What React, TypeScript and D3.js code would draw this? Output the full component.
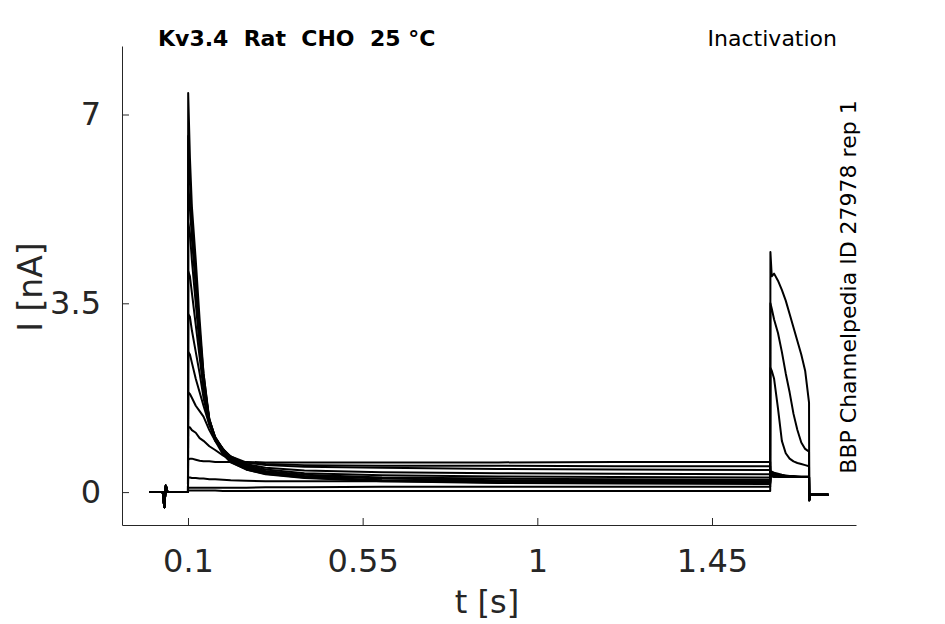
import React, { useEffect, useRef } from 'react';
import * as d3 from 'd3';

// holding potential segment before the prepulse (shared by all sweeps)
const baselineTimes = [0, 0.035, 0.039, 0.043, 0.047, 0.052, 0.1];
const baselineCurrent = [0, 0, -0.28, 0.12, 0, 0, 0];

// prepulse segment, 0.1 s .. 1.6 s
const prepulseTimes = [0.1005, 0.105, 0.11, 0.12, 0.13, 0.14, 0.155, 0.17, 0.19, 0.21, 0.25, 0.3, 0.4, 0.6, 0.9, 1.2, 1.6];
const prepulseCurrents = [
  [7.4, 6.2, 5.3, 4.3, 3.2, 2.2, 1.3, 0.95, 0.7, 0.55, 0.42, 0.33, 0.26, 0.2, 0.17, 0.16, 0.15],
  [6.6, 5.8, 5.0, 4.0, 3.0, 2.2, 1.35, 1.0, 0.72, 0.56, 0.42, 0.34, 0.27, 0.21, 0.18, 0.17, 0.17],
  [5.7, 5.3, 4.7, 3.8, 2.9, 2.1, 1.35, 1.0, 0.75, 0.58, 0.44, 0.35, 0.28, 0.22, 0.2, 0.19, 0.18],
  [5.0, 4.8, 4.3, 3.5, 2.7, 2.0, 1.35, 1.02, 0.78, 0.6, 0.46, 0.37, 0.3, 0.25, 0.22, 0.21, 0.2],
  [4.1, 4.0, 3.7, 3.1, 2.5, 1.9, 1.3, 1.02, 0.8, 0.62, 0.48, 0.39, 0.32, 0.27, 0.25, 0.24, 0.23],
  [3.3, 3.25, 3.0, 2.6, 2.2, 1.75, 1.25, 1.0, 0.8, 0.64, 0.5, 0.42, 0.35, 0.31, 0.29, 0.28, 0.27],
  [2.6, 2.55, 2.4, 2.1, 1.85, 1.6, 1.25, 1.0, 0.8, 0.66, 0.52, 0.45, 0.4, 0.37, 0.35, 0.34, 0.33],
  [1.85, 1.82, 1.75, 1.6, 1.5, 1.4, 1.15, 0.95, 0.78, 0.66, 0.55, 0.5, 0.47, 0.45, 0.43, 0.42, 0.41],
  [1.2, 1.2, 1.15, 1.1, 1.0, 0.95, 0.85, 0.78, 0.68, 0.6, 0.55, 0.52, 0.5, 0.49, 0.49, 0.48, 0.48],
  [0.6, 0.62, 0.62, 0.6, 0.58, 0.57, 0.57, 0.56, 0.56, 0.56, 0.56, 0.55, 0.55, 0.55, 0.55, 0.56, 0.56],
  [0.27, 0.27, 0.26, 0.26, 0.25, 0.25, 0.24, 0.24, 0.23, 0.22, 0.21, 0.2, 0.2, 0.2, 0.2, 0.2, 0.2],
  [0.08, 0.08, 0.08, 0.08, 0.08, 0.08, 0.08, 0.08, 0.08, 0.08, 0.08, 0.09, 0.09, 0.1, 0.1, 0.1, 0.1],
  [0.03, 0.03, 0.03, 0.03, 0.03, 0.03, 0.03, 0.03, 0.02, 0.02, 0.02, 0.02, 0.02, 0.02, 0.02, 0.02, 0.02],
];

// test pulse segment, 1.6 s .. 1.7 s
const testTimes = [1.6005, 1.604, 1.61, 1.62, 1.63, 1.64, 1.65, 1.66, 1.67, 1.68, 1.69, 1.7];
const testCurrents = [
  [0.3, 0.3, 0.29, 0.29, 0.28, 0.28, 0.28, 0.28, 0.28, 0.28, 0.28, 0.28],
  [0.3, 0.3, 0.29, 0.29, 0.28, 0.28, 0.28, 0.28, 0.28, 0.28, 0.28, 0.28],
  [0.3, 0.3, 0.29, 0.29, 0.28, 0.28, 0.28, 0.28, 0.28, 0.28, 0.28, 0.28],
  [0.3, 0.3, 0.29, 0.29, 0.28, 0.28, 0.28, 0.28, 0.28, 0.28, 0.28, 0.28],
  [0.3, 0.3, 0.29, 0.29, 0.28, 0.28, 0.28, 0.28, 0.28, 0.28, 0.28, 0.28],
  [0.32, 0.31, 0.3, 0.3, 0.29, 0.29, 0.28, 0.28, 0.28, 0.28, 0.28, 0.28],
  [0.33, 0.32, 0.31, 0.3, 0.29, 0.29, 0.29, 0.28, 0.28, 0.28, 0.28, 0.28],
  [0.35, 0.34, 0.32, 0.31, 0.3, 0.29, 0.29, 0.29, 0.28, 0.28, 0.28, 0.28],
  [0.38, 0.36, 0.34, 0.32, 0.31, 0.3, 0.29, 0.29, 0.29, 0.28, 0.28, 0.28],
  [0.4, 0.38, 0.36, 0.34, 0.32, 0.31, 0.3, 0.3, 0.29, 0.29, 0.29, 0.29],
  [2.3, 2.25, 2.1, 1.55, 0.95, 0.72, 0.62, 0.57, 0.54, 0.52, 0.5, 0.48],
  [3.5, 3.4, 3.2, 2.95, 2.6, 2.2, 1.85, 1.45, 1.15, 0.92, 0.8, 0.75],
  [4.45, 4.0, 4.05, 3.92, 3.75, 3.55, 3.3, 3.05, 2.8, 2.55, 2.25, 1.66],
];

// return to holding potential (shared)
const tailTimes = [1.7005, 1.703, 1.75];
const tailCurrent = [-0.15, -0.05, -0.05];

const xTicks = [0.1, 0.55, 1, 1.45];
const xTickLabels = ['0.1', '0.55', '1', '1.45'];
const yTicks = [0, 3.5, 7];
const yTickLabels = ['0', '3.5', '7'];

const FONT = '"DejaVu Sans", sans-serif';

export default function App() {
  const svgRef = useRef<SVGSVGElement>(null);

  useEffect(() => {
    if (!svgRef.current) return;
    const svg = d3.select(svgRef.current);
    svg.selectAll('*').remove();

    const left = 122, right = 856, top = 46, bottom = 525;

    const x = d3.scaleLinear().domain([-0.07, 1.821]).range([left, right]);
    const y = d3.scaleLinear().domain([-0.61, 8.27]).range([bottom, top]);

    // build each sweep from its segments
    const sweeps = prepulseCurrents.map((pre, i) => {
      const pts: [number, number][] = [];
      baselineTimes.forEach((t, k) => pts.push([t, baselineCurrent[k]]));
      prepulseTimes.forEach((t, k) => pts.push([t, pre[k]]));
      testTimes.forEach((t, k) => pts.push([t, testCurrents[i][k]]));
      tailTimes.forEach((t, k) => pts.push([t, tailCurrent[k]]));
      return pts;
    });

    const line = d3.line<[number, number]>()
      .x(d => x(d[0]))
      .y(d => y(d[1]));

    svg.append('g')
      .selectAll('path')
      .data(sweeps)
      .enter()
      .append('path')
      .attr('d', d => line(d))
      .attr('fill', 'none')
      .attr('stroke', '#000')
      .attr('stroke-width', 2)
      .attr('stroke-linejoin', 'round');

    // axes, ticks pointing inwards
    const xAxis = d3.axisBottom(x)
      .tickValues(xTicks)
      .tickFormat((_, i) => xTickLabels[i])
      .tickSizeInner(-7)
      .tickSizeOuter(0)
      .tickPadding(24);

    const yAxis = d3.axisLeft(y)
      .tickValues(yTicks)
      .tickFormat((_, i) => yTickLabels[i])
      .tickSizeInner(-7)
      .tickSizeOuter(0)
      .tickPadding(21);

    const gx = svg.append('g').attr('transform', `translate(0,${bottom})`).call(xAxis);
    const gy = svg.append('g').attr('transform', `translate(${left},0)`).call(yAxis);

    [gx, gy].forEach(g => {
      g.select('.domain').attr('stroke', '#262626').attr('stroke-width', 1);
      g.selectAll('.tick line').attr('stroke', '#262626');
      g.selectAll('.tick text')
        .attr('fill', '#262626')
        .style('font-family', FONT)
        .style('font-size', '32px');
    });

    // axis labels
    svg.append('text')
      .attr('x', 487)
      .attr('y', 613)
      .attr('text-anchor', 'middle')
      .attr('fill', '#262626')
      .style('font-family', FONT)
      .style('font-size', '32px')
      .text('t [s]');

    svg.append('text')
      .attr('transform', 'translate(42,287) rotate(-90)')
      .attr('text-anchor', 'middle')
      .attr('fill', '#262626')
      .style('font-family', FONT)
      .style('font-size', '33px')
      .text('I [nA]');

    // annotations
    svg.append('text')
      .attr('x', 158)
      .attr('y', 46)
      .attr('fill', '#000')
      .style('font-family', FONT)
      .style('font-size', '22px')
      .style('font-weight', 'bold')
      .style('white-space', 'pre')
      .text('Kv3.4  Rat  CHO  25 °C');

    svg.append('text')
      .attr('x', 837)
      .attr('y', 46)
      .attr('text-anchor', 'end')
      .attr('fill', '#000')
      .style('font-family', FONT)
      .style('font-size', '22px')
      .text('Inactivation');

    svg.append('text')
      .attr('transform', 'translate(856,287) rotate(-90)')
      .attr('text-anchor', 'middle')
      .attr('fill', '#000')
      .style('font-family', FONT)
      .style('font-size', '22px')
      .text('BBP Channelpedia ID 27978 rep 1');
  }, []);

  return (
    <div style={{ position: 'absolute', left: 0, top: 0, background: '#fff' }}>
      <svg ref={svgRef} width={945} height={624} style={{ display: 'block' }} />
    </div>
  );
}
